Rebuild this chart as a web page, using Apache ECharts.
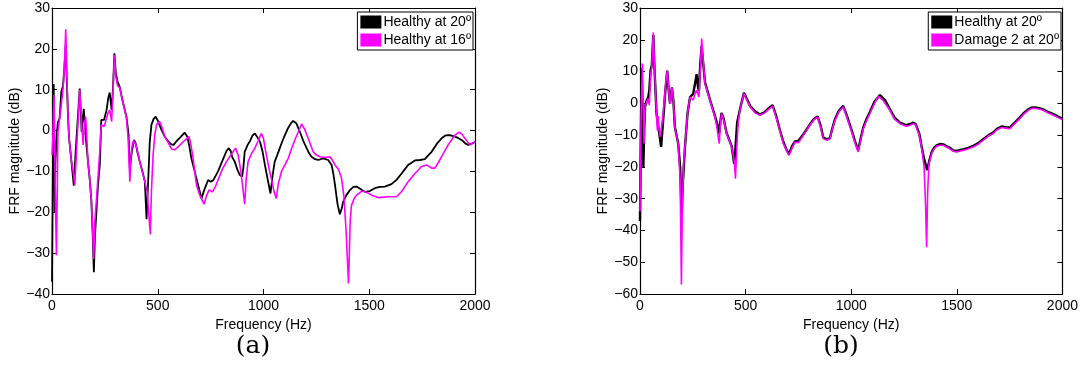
<!DOCTYPE html>
<html><head><meta charset="utf-8">
<script src="https://cdn.jsdelivr.net/npm/echarts@6/dist/echarts.min.js"></script>
<style>html,body{margin:0;padding:0;background:#fff}#c{width:1081px;height:365px}</style>
</head><body><div id="c"></div>
<script>
// ---- data (frequency Hz, FRF magnitude dB) ----
const xTicks = [0, 500, 1000, 1500, 2000];
const yTicksA = [-40, -30, -20, -10, 0, 10, 20, 30];
const yTicksB = [-60, -50, -40, -30, -20, -10, 0, 10, 20, 30];
const namesA = ['Healthy at 20º', 'Healthy at 16º'];
const namesB = ['Healthy at 20º', 'Damage 2 at 20º'];
const panelLabels = ['(a)', '(b)'];

const healthy20A = [[0,-37],[4,-10],[8,11.4],[11,-5],[13,-20],[16,-8],[22,-1],[28,2],[36,3],[44,9.5],[52,11],[58,15],[65,21],[70,12],[76,3],[81,-2],[92,-7.6],[103,-13.5],[112,-5],[122,3],[131,10.3],[137,4],[140,-0.3],[146,3],[150,5.3],[155,2],[162,-3],[170,-7.6],[178,-11.7],[186,-17],[192,-25],[198,-34.7],[203,-26],[210,-19.8],[218,-13],[226,-8.4],[233,2.6],[246,2.6],[258,5],[266,8],[273,9.3],[282,5],[288,10],[295,18.9],[302,14],[310,12],[320,10.7],[335,7],[352,3.4],[362,-1],[368,-9.2],[378,-5],[388,-2.3],[395,-3],[405,-5.5],[415,-7.6],[430,-10.5],[439,-12.5],[447,-21.7],[455,-12],[462,-3],[470,1.4],[480,2.8],[490,3.4],[500,2.5],[515,0.5],[533,-1.5],[550,-2.7],[565,-3.4],[575,-3.5],[590,-2.5],[610,-1.5],[627,-0.5],[640,-1.5],[650,-4],[659,-6.8],[683,-11.7],[707,-16.6],[720,-14.5],[738,-12.1],[750,-12.5],[762,-12.2],[785,-10],[805,-7.5],[825,-5],[836,-4.3],[845,-5],[852,-6.5],[864,-7.6],[876,-9.5],[888,-10.9],[899,-11.3],[905,-9],[911,-5.2],[925,-3.5],[935,-2.7],[948,-1.2],[959,-0.7],[970,-1.5],[983,-2.7],[995,-5],[1007,-8.5],[1020,-12],[1033,-15.4],[1043,-11],[1053,-7.6],[1065,-6],[1077,-4.3],[1090,-2.5],[1101,-1.1],[1115,0.5],[1130,1.8],[1140,2.35],[1155,1.8],[1172,-0.3],[1188,-2.5],[1204,-4.3],[1215,-5.5],[1227,-6.4],[1243,-7],[1259,-7.2],[1282,-6.8],[1306,-7.2],[1322,-8.4],[1330,-10.5],[1338,-13.3],[1350,-18],[1361,-20.5],[1370,-19],[1377,-17.4],[1392,-15.8],[1410,-14.5],[1425,-13.8],[1440,-13.7],[1464,-14.5],[1480,-15],[1503,-14.8],[1526,-14.1],[1550,-13.8],[1574,-13.7],[1605,-13.1],[1630,-12],[1653,-10.5],[1684,-8.4],[1716,-7.3],[1740,-7.2],[1763,-7],[1780,-6],[1795,-5.2],[1820,-3.2],[1842,-1.9],[1860,-1.2],[1880,-1.1],[1905,-1.5],[1920,-1.8],[1937,-2.3],[1955,-3.2],[1968,-3.5],[1985,-3.2],[2000,-2.8]];

const healthy16A = [[0,-6],[4,-2],[9.5,8.7],[13,-5],[17,-20],[21,-30.5],[25,-14],[28,-0.3],[36,0],[44,6.3],[52,10],[58,15],[65,24.8],[70,14],[76,3],[81,-2],[92,-7.6],[100,-10],[108,-13.3],[115,-6],[124,3],[131,10],[137,5],[141,1],[147,-3.5],[152,1],[159,3.4],[163,0],[170,-7.6],[178,-11.7],[186,-17],[192,-24],[197,-31.4],[203,-22],[210,-17],[218,-11],[226,-5],[233,1.4],[246,1],[258,3],[266,4.5],[273,5],[282,2.2],[288,9],[295,18.5],[302,13],[310,11],[320,10.5],[335,7],[352,3.2],[360,-2],[368,-12.5],[374,-6],[381,-3],[388,-2.5],[393,-2.3],[400,-4],[415,-7.6],[439,-12.5],[450,-15],[457,-20],[465,-25.4],[470,-15],[478,-6],[486,-1],[495,1.5],[509,2.2],[520,0.8],[533,-1.5],[550,-3],[565,-4.5],[580,-4.7],[600,-3.8],[625,-2.5],[648,-1.5],[655,-3],[665,-6],[683,-13.3],[700,-16],[719,-18],[730,-16],[743,-14.5],[759,-15],[772,-13.8],[785,-12.1],[805,-9.5],[825,-7.6],[845,-6],[868,-4.3],[880,-6],[890,-9],[900,-13],[911,-18],[918,-12],[927,-7.6],[945,-5.5],[959,-4.3],[975,-2.5],[990,-0.7],[1000,-2],[1010,-5],[1025,-9],[1040,-12.5],[1050,-15],[1061,-16.6],[1070,-13],[1085,-10],[1100,-8.5],[1117,-6.8],[1132,-4.5],[1148,-2.3],[1165,-0.3],[1180,1.6],[1195,0.3],[1211,-1.9],[1235,-5.2],[1250,-6],[1267,-6.4],[1290,-6.6],[1314,-6.4],[1325,-7.2],[1338,-8.4],[1355,-9.5],[1369,-11.7],[1380,-16],[1390,-24],[1398,-33],[1402,-37.4],[1406,-30],[1410,-22],[1416,-18.3],[1430,-16.5],[1440,-15.8],[1460,-15],[1471,-14.8],[1490,-15.2],[1511,-15.8],[1542,-16.4],[1570,-16.3],[1590,-16.2],[1629,-16.2],[1653,-14.9],[1684,-12.5],[1716,-10.5],[1747,-8.8],[1771,-8.4],[1795,-9.2],[1810,-9.2],[1825,-8],[1842,-6.4],[1873,-3.5],[1905,-1.1],[1925,-0.4],[1940,-1],[1952,-1.9],[1976,-3.5],[2000,-2.7]];

const healthy20B = [[0,-37],[4,-10],[8,11],[12,-5],[16,-20],[20,-8],[24,-1.1],[32,1],[39,2],[44,4],[50,10.4],[56,12],[63,21.5],[68,12],[74,3],[78,-3],[82,-5.3],[90,-9],[100,-13.7],[110,-5],[120,4],[129,10.2],[136,4],[142,0],[151,5],[158,1],[165,-7.4],[181,-12.7],[190,-20],[197,-34.8],[203,-25],[213,-13.7],[225,-3.2],[237,2],[252,3],[260,6],[268,9.2],[275,5],[279,4],[285,12],[292,18],[300,12],[308,6.5],[331,1.2],[355,-4],[368,-7],[375,-9.5],[380,-6],[386,-3],[395,-4.5],[410,-9.3],[434,-13.5],[446,-19],[452,-14],[460,-6],[473,-2],[492,3.3],[505,1.5],[521,-0.8],[545,-2.5],[568,-3.5],[590,-2.8],[610,-1.5],[628,-0.6],[645,-4],[662,-8.3],[678,-12],[694,-14.6],[705,-16],[720,-13.5],[734,-12],[750,-11.8],[773,-9.8],[804,-6.7],[822,-5],[841,-4.1],[855,-7],[868,-10.8],[885,-11.3],[899,-11],[910,-8],[923,-5],[940,-2.5],[962,-0.8],[980,-4],[1000,-8],[1018,-12],[1033,-14.8],[1045,-11],[1057,-7.6],[1072,-5],[1088,-2.8],[1110,0.5],[1136,2.6],[1160,1],[1183,-1.8],[1205,-4.5],[1231,-6.1],[1262,-6.9],[1280,-6.5],[1294,-6.1],[1305,-6.5],[1312,-7.1],[1322,-9.5],[1333,-13.4],[1345,-17.5],[1360,-21],[1370,-18],[1380,-15.5],[1392,-14],[1404,-13.2],[1420,-12.8],[1436,-12.9],[1452,-13.5],[1467,-14],[1483,-14.8],[1499,-15],[1515,-14.7],[1530,-14.5],[1555,-14],[1578,-13.4],[1600,-12.6],[1625,-11.3],[1650,-10],[1672,-9.2],[1690,-8],[1712,-7.3],[1730,-7.5],[1751,-7.6],[1775,-6],[1798,-4.5],[1818,-3],[1838,-1.9],[1855,-1.3],[1870,-1.3],[1890,-1.5],[1909,-1.9],[1935,-2.8],[1957,-3.4],[1980,-4.2],[2000,-4.8]];

const damage2B = [[0,-34],[5,-5],[11,12.5],[15,0],[19,-12.7],[24,-1],[32,0.5],[39,1.5],[44,-0.6],[50,9],[56,11.5],[63,22.3],[68,13],[74,3],[82,-8.5],[86,-4],[90,-8],[96,-10.6],[100,-10],[110,-3],[120,5],[129,10.4],[136,4],[142,-0.1],[151,5],[158,1],[165,-7.4],[181,-12.7],[190,-24],[196,-57],[200,-35],[206,-20],[213,-13.7],[225,-3.2],[237,2],[252,1],[260,3],[268,4.1],[279,2],[285,10],[292,20.4],[300,13],[308,6.2],[331,1],[355,-4.3],[365,-8],[375,-12.7],[380,-7],[386,-3.2],[395,-5],[410,-9.5],[434,-13.7],[446,-18],[452,-23.7],[458,-14],[465,-6],[473,-2.2],[492,3.1],[505,1.2],[521,-1.1],[545,-3],[568,-3.8],[590,-3],[610,-1.8],[628,-0.9],[645,-4.5],[662,-8.5],[678,-12.5],[694,-14.8],[705,-16.4],[720,-14],[734,-12.2],[750,-12.4],[773,-10],[804,-6.9],[822,-5.3],[841,-4.3],[855,-7.5],[868,-11.1],[885,-11.6],[899,-11.1],[910,-8.3],[923,-5.3],[940,-2.8],[962,-1.1],[980,-4.5],[1000,-8.5],[1018,-12.5],[1033,-15.3],[1045,-11.5],[1057,-8],[1072,-5.5],[1088,-3.2],[1110,0],[1128,2.2],[1150,1],[1183,-2.2],[1205,-5],[1231,-6.4],[1262,-7.2],[1280,-6.8],[1294,-6.4],[1305,-6.8],[1312,-7.4],[1322,-10],[1333,-13.7],[1345,-20],[1352,-32],[1357,-45.3],[1362,-28],[1368,-19],[1380,-15.8],[1392,-14.4],[1404,-13.5],[1420,-13.2],[1436,-13.2],[1452,-13.8],[1467,-14.3],[1483,-15.1],[1499,-15.3],[1515,-15],[1530,-14.8],[1555,-14.3],[1578,-13.7],[1600,-12.9],[1625,-11.6],[1650,-10.3],[1672,-9.5],[1690,-8.3],[1712,-7.6],[1730,-7.8],[1751,-8],[1775,-6.3],[1798,-4.8],[1818,-3.3],[1838,-2.2],[1855,-1.6],[1870,-1.6],[1890,-1.8],[1909,-2.2],[1935,-3.1],[1957,-3.75],[1980,-4.5],[2000,-5.1]];

// ---- chart ----
const FONT = 'Liberation Sans, Arial, Helvetica, sans-serif';
const fmt = v => String(v).replace('-', '\u2212');
const chart = echarts.init(document.getElementById('c'), null, {renderer: 'canvas'});

const grids = [
  {left: 52, top: 8, width: 423, height: 286},
  {left: 640, top: 8, width: 423, height: 286}
];
function xAx(gi, pos, labels) {
  return {type: 'value', gridIndex: gi, position: pos, min: xTicks[0], max: xTicks[xTicks.length-1], interval: 500,
    name: labels ? 'Frequency (Hz)' : '', nameLocation: 'middle', nameGap: 12,
    nameTextStyle: {fontFamily: FONT, fontSize: 14, color: '#000'},
    axisLine: {show: true, onZero: false, lineStyle: {color: '#000', width: 1.2}},
    axisTick: {show: true, inside: true, length: 5, lineStyle: {color: '#000'}},
    axisLabel: {show: labels, margin: 5, fontFamily: FONT, fontSize: 14, color: '#000', formatter: fmt},
    splitLine: {show: false}};
}
function yAx(gi, pos, ticks, labels) {
  return {type: 'value', gridIndex: gi, position: pos, min: ticks[0], max: ticks[ticks.length-1], interval: 10,
    name: labels ? 'FRF magnitude (dB)' : '', nameLocation: 'middle', nameGap: 28,
    nameTextStyle: {fontFamily: FONT, fontSize: 14, color: '#000'},
    axisLine: {show: true, onZero: false, lineStyle: {color: '#000', width: 1.2}},
    axisTick: {show: true, inside: true, length: 5, lineStyle: {color: '#000'}},
    axisLabel: {show: labels, margin: 2, fontFamily: FONT, fontSize: 14, color: '#000', formatter: fmt},
    splitLine: {show: false}};
}
function line(name, data, gi, color, w, z) {
  return {type: 'line', name: name, data: data, xAxisIndex: gi*2, yAxisIndex: gi*2,
    showSymbol: false, symbol: 'none', smooth: false, animation: false, z: z,
    lineStyle: {color: color, width: w}, itemStyle: {color: color}};
}
const legendCommon = {orient: 'vertical', top: 12, padding: [3, 2, 3, 3], itemGap: 4,
  itemWidth: 21, itemHeight: 13, icon: 'rect', borderColor: '#000', borderWidth: 1, borderRadius: 0,
  backgroundColor: '#fff', textStyle: {fontFamily: FONT, fontSize: 14, lineHeight: 13, color: '#000', padding: [0, 0, 0, -3]}};

chart.setOption({
  animation: false,
  backgroundColor: '#fff',
  grid: grids,
  xAxis: [xAx(0, 'bottom', true), xAx(0, 'top', false), xAx(1, 'bottom', true), xAx(1, 'top', false)],
  yAxis: [yAx(0, 'left', yTicksA, true), yAx(0, 'right', yTicksA, false), yAx(1, 'left', yTicksB, true), yAx(1, 'right', yTicksB, false)],
  legend: [
    Object.assign({}, legendCommon, {right: 1081 - 473, data: namesA}),
    Object.assign({}, legendCommon, {right: 1081 - 1061, data: namesB})
  ],
  series: [
    line(namesA[0], healthy20A, 0, '#000000', 1.8, 2),
    line(namesA[1], healthy16A, 0, '#ff00ff', 1.6, 3),
    line(namesB[0], healthy20B, 1, '#000000', 2.4, 2),
    line(namesB[1], damage2B, 1, '#ff00ff', 1.6, 3)
  ],
  graphic: [
    {type: 'text', x: 253, y: 334, style: {text: panelLabels[0], textAlign: 'center', fontFamily: 'DejaVu Serif, Liberation Serif, serif', fontSize: 25, fill: '#000'}},
    {type: 'text', x: 841, y: 334, style: {text: panelLabels[1], textAlign: 'center', fontFamily: 'DejaVu Serif, Liberation Serif, serif', fontSize: 25, fill: '#000'}}
  ]
});
</script></body></html>
